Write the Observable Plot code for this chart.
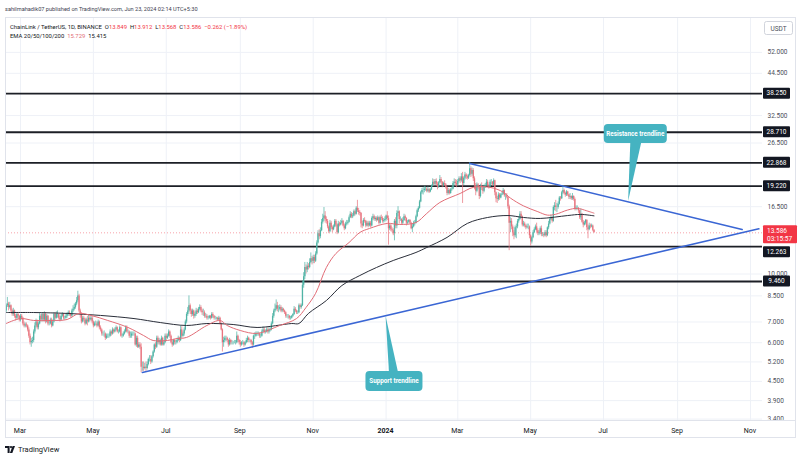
<!DOCTYPE html>
<html><head><meta charset="utf-8">
<script src="https://cdn.jsdelivr.net/npm/d3@7"></script>
<script src="https://cdn.jsdelivr.net/npm/@observablehq/plot@0.6"></script>
<style>
body{margin:0;background:#fff;}
#wrap{position:relative;width:800px;height:460px;overflow:hidden;background:#fff;font-family:Roboto,"Liberation Sans",sans-serif;}
#foot{position:absolute;left:5px;top:443px;height:12px;display:flex;align-items:center;gap:3px;font-size:7.5px;color:#131722;}
</style></head><body>
<div id="wrap"><div id="chart"></div>
<div id="foot"><svg width="10" height="7" viewBox="0 0 10 7"><path d="M0 0h4.6v7H2.6V2H0z" fill="#131722"/><circle cx="6" cy="1.1" r="1.1" fill="#131722"/><path d="M7.6 0h2.4L7.3 7H4.9z" fill="#131722"/></svg><span>TradingView</span></div>
</div>
<script>
// ---------------- DATA ----------------
const monthStarts = ["2023-02-17","2023-03-01","2023-04-01","2023-05-01","2023-06-01","2023-07-01","2023-08-01","2023-09-01","2023-10-01","2023-11-01","2023-12-01","2024-01-01","2024-02-01","2024-03-01","2024-04-01","2024-05-01","2024-06-01"];
const firstOpen = 7.6;
const closeByMonth = [
 [7.9,8.0,7.8,7.9,7.6,7.4,7.6,7.3,7.2,7.4,7.3,7.1],
 [7.3,7.2,6.9,6.8,6.85,6.8,6.6,6.3,6.0,6.05, 6.1,6.5,6.8,7.0,6.7,6.9,7.3,7.1,7.4,7.1, 7.4,7.0,7.3,6.9,6.9,7.1,6.8,7.0,7.4,7.2,7.4],
 [7.4,7.2,7.1,7.3,7.4,7.2,7.2,7.3,7.4,7.5, 7.4,7.3,7.6,7.7,7.8,8.0,8.2,8.5,7.6,7.4, 7.0,7.2,7.1,6.9,7.1,7.0,7.2,7.1,7.2,7.0],
 [6.8,6.9,6.9,6.8,7.0,6.7,6.6,6.4,6.4,6.4, 6.2,6.3,6.3,6.3,6.5,6.4,6.6,6.5,6.6,6.7, 6.5,6.5,6.7,6.3,6.3,6.4,6.5,6.7,6.5,6.5,6.3],
 [6.3,6.4,6.4,6.4,5.9,6.2,5.8,5.9,5.8,5.0, 5.0,4.95,5.0,4.95,5.1,5.3,5.3,5.2,5.4,5.6, 5.9,5.8,6.2,6.0,6.1,5.9,6.2,5.9,6.0,6.3],
 [6.2,6.3,6.5,6.3,6.0,5.9,6.1,6.0,6.0,6.1, 6.2,6.1,6.6,6.3,6.4,6.6,7.0,7.4,7.6,7.9, 7.6,7.4,7.6,7.3,7.4,7.6,7.5,7.7,7.8,7.6,7.5],
 [7.5,7.3,7.3,7.2,7.2,7.3,7.2,7.4,7.3,7.2, 7.2,7.2,7.1,7.2,6.9,6.6,6.0,6.1,6.2,6.2, 6.1,5.9,6.1,6.0,6.0,6.0,6.0,6.0,6.3,6.1,6.0],
 [5.9,6.0,6.0,5.9,6.0,6.1,6.2,6.1,6.1,6.0, 5.9,6.3,6.3,6.4,6.4,6.4,6.3,6.3,6.5,6.6, 6.5,6.5,6.6,6.5,6.6,6.6,6.9,7.3,7.6,7.7],
 [7.9,7.7,7.7,7.8,7.6,7.7,7.6,7.5,7.3,7.3, 7.3,7.2,7.2,7.3,7.4,7.7,7.6,7.5,7.5,7.9, 7.8,7.9,9.2,9.8,10.5,10.3,10.6,10.5,10.9,11.2, 11.0],
 [11.3,11.0,11.6,12.6,13.5,13.2,13.8,14.7,15.1,15.4, 15.0,14.8,14.2,13.7,14.6,14.1,13.9,14.2,14.8,14.4, 13.6,14.5,14.4,14.6,14.8,14.3,14.0,14.5,14.6,14.7],
 [15.2,15.6,15.3,15.4,15.9,15.6,16.3,16.0,15.8,15.7, 14.5,14.3,14.9,14.8,14.3,14.6,14.3,14.6,14.3,15.1, 15.3,15.0,15.1,14.9,15.2,14.6,15.2,15.1,14.8,14.9, 15.0],
 [15.4,15.1,14.0,14.3,13.9,13.8,13.5,14.8,14.3,15.7, 15.9,15.0,15.0,14.6,14.9,15.3,15.1,14.6,14.7,14.9, 14.6,14.0,14.2,14.6,14.6,15.3,16.0,16.3,17.1,18.3, 18.6],
 [18.6,18.8,18.8,18.5,18.7,18.4,18.7,19.2,19.8,19.5, 19.9,19.5,19.1,19.7,20.2,19.8,19.3,19.6,19.4,19.0, 18.2,18.6,18.2,18.7,18.8,19.6,19.8,19.6,19.4],
 [19.9,20.3,20.0,20.6,19.6,20.4,20.9,20.6,20.4,20.8, 21.9,21.0,21.6,20.3,19.3,18.5,19.4,19.1,17.8,19.2, 19.0,18.5,19.2,19.3,19.8,19.3,19.1,19.8,19.8,19.4, 20.0],
 [18.3,17.5,17.4,18.0,17.6,18.0,18.1,18.6,17.9,17.9, 17.7,16.5,14.6,14.8,14.2,13.6,13.3,14.1,14.2,14.8, 15.0,15.6,15.3,14.4,14.5,14.3,14.1,14.2,14.2,13.3],
 [12.7,13.1,13.6,13.9,14.2,13.8,13.5,13.6,14.0,13.4, 13.4,13.3,13.6,13.3,14.1,14.5,15.0,15.2,14.8,16.4, 16.6,16.4,16.4,16.8,17.6,17.5,18.3,18.6,18.2,18.0, 18.4],
 [18.0,17.7,17.8,17.5,17.8,17.4,16.2,16.3,16.3,16.0, 15.2,15.6,14.7,14.4,14.6,14.9,14.1,13.9,14.3,14.2, 14.3,13.849,13.586]
];
const highByMonth = [
 [8.0,8.4,8.1,8.1,7.95,7.7,7.75,7.65,7.4,7.5,7.5,7.35],
 [7.4,7.4,7.25,7.0,6.95,6.95,6.85,6.7,6.4,6.2, 6.25,6.6,6.95,7.15,7.1,7.0,7.45,7.4,7.5,7.45, 7.55,7.5,7.4,7.35,7.05,7.2,7.2,7.1,7.5,7.5,7.55],
 [7.6,7.45,7.3,7.4,7.5,7.45,7.3,7.4,7.5,7.6, 7.6,7.45,7.7,7.9,8.0,8.1,8.4,8.8,8.6,7.7, 7.5,7.3,7.3,7.2,7.2,7.3,7.35,7.3,7.3,7.3],
 [7.05,7.0,7.05,7.0,7.1,7.05,6.8,6.65,6.5,6.55, 6.45,6.4,6.4,6.4,6.6,6.55,6.7,6.65,6.7,6.8, 6.75,6.6,6.8,6.75,6.4,6.5,6.6,6.8,6.8,6.6,6.55],
 [6.5,6.5,6.5,6.5,6.45,6.3,6.3,6.0,6.0,5.95, 5.2,5.2,5.15,5.2,5.2,5.35,5.45,5.45,5.45,5.65, 5.95,6.0,6.3,6.3,6.2,6.15,6.3,6.25,6.1,6.4],
 [6.4,6.4,6.6,6.55,6.35,6.1,6.15,6.15,6.1,6.2, 6.3,6.25,6.8,6.75,6.5,6.7,7.1,7.5,7.8,8.5, 8.0,7.7,7.7,7.65,7.5,7.75,7.7,7.8,7.95,7.9,7.7],
 [7.7,7.6,7.45,7.4,7.3,7.35,7.35,7.5,7.5,7.35, 7.3,7.25,7.25,7.3,7.25,6.95,6.65,6.25,6.3,6.3, 6.25,6.15,6.2,6.15,6.1,6.05,6.1,6.1,6.5,6.35,6.15],
 [6.1,6.05,6.1,6.05,6.05,6.2,6.3,6.25,6.15,6.15, 6.05,6.35,6.45,6.5,6.5,6.5,6.45,6.4,6.6,6.75, 6.7,6.6,6.7,6.7,6.7,6.7,7.0,7.45,7.7,8.0],
 [8.25,8.1,7.9,7.95,7.9,7.8,7.75,7.65,7.55,7.4, 7.4,7.35,7.3,7.35,7.45,7.85,7.8,7.65,7.6,8.0, 8.0,8.0,9.5,10.1,10.9,10.7,10.9,10.8,11.2,11.7, 11.4],
 [11.5,11.5,11.8,12.8,13.8,13.9,14.1,15.0,15.6,16.4, 15.9,15.3,15.0,14.3,14.9,14.8,14.3,14.4,15.0,15.0, 14.5,14.8,14.7,14.9,15.1,14.9,14.5,14.7,14.9,14.9],
 [15.4,15.9,15.8,15.7,16.1,16.1,16.5,17.3,16.3,16.0, 15.8,14.8,15.1,15.2,14.9,14.8,14.8,14.8,14.8,15.3, 15.6,15.5,15.3,15.3,15.4,15.3,15.4,15.5,15.3,15.1, 15.3],
 [15.5,15.9,15.4,14.5,14.5,14.1,14.0,15.0,15.2,16.0, 16.5,16.0,15.3,15.1,15.2,15.6,15.5,15.2,14.9,15.0, 15.0,14.7,14.5,14.8,14.9,15.5,16.2,16.5,17.3,18.5, 18.9],
 [19.0,19.2,19.1,19.0,19.1,18.9,18.9,19.4,20.3,20.2, 20.2,20.3,19.8,19.9,20.8,20.5,19.9,19.8,20.0,19.6, 19.1,18.9,18.8,18.9,19.1,19.9,20.3,20.2,20.1],
 [20.2,20.6,20.6,21.1,21.3,20.6,21.3,21.1,20.9,21.0, 22.9,22.2,22.0,21.9,20.6,19.6,19.7,19.6,19.2,19.5, 19.7,19.1,19.4,19.6,20.2,20.1,19.5,20.1,20.2,19.9, 20.3],
 [20.1,18.4,17.8,18.3,18.2,18.2,18.4,18.9,18.7,18.1, 18.2,17.8,16.7,15.2,15.1,14.4,13.8,14.3,14.5,15.0, 15.3,15.9,15.9,15.4,14.8,14.7,14.4,14.5,14.5,14.3],
 [13.4,13.2,13.8,14.1,14.4,14.6,14.0,13.8,14.2,14.3, 13.6,13.6,13.8,13.8,14.2,14.8,15.2,15.5,15.3,16.6, 17.0,17.3,16.9,17.1,17.8,17.8,18.5,19.3,18.8,18.4, 18.6],
 [18.5,18.1,18.2,17.9,18.2,17.9,17.6,16.6,16.6,16.4, 16.1,16.2,15.7,14.9,14.8,15.0,15.0,14.4,14.6,14.5, 14.5,14.4,13.912]
];
const lowByMonth = [
 [7.5,7.8,7.6,7.7,7.45,7.3,7.3,7.2,7.05,7.1,7.15,7.0],
 [7.0,7.1,6.8,6.7,6.7,6.7,6.5,6.2,5.9,5.8, 5.95,6.0,6.4,6.7,6.6,6.6,6.85,7.0,7.0,7.0, 7.0,6.9,6.95,6.8,6.8,6.85,6.7,6.75,6.95,7.1,7.15],
 [7.2,7.1,7.0,7.05,7.25,7.1,7.1,7.15,7.2,7.3, 7.3,7.2,7.25,7.5,7.6,7.7,7.9,8.1,7.5,7.2, 6.9,6.95,7.0,6.8,6.85,6.8,6.95,7.0,7.05,6.9],
 [6.7,6.75,6.8,6.7,6.75,6.6,6.5,6.3,6.3,6.25, 6.1,6.15,6.2,6.2,6.25,6.3,6.35,6.4,6.45,6.55, 6.45,6.4,6.45,6.25,6.2,6.25,6.35,6.45,6.45,6.4,6.2],
 [6.2,6.2,6.3,6.3,5.85,5.8,5.75,5.75,5.7,4.8, 4.85,4.85,4.9,4.85,4.9,5.05,5.2,5.1,5.15,5.35, 5.55,5.7,5.75,5.9,5.9,5.85,5.85,5.85,5.85,5.95],
 [6.1,6.15,6.25,6.2,5.95,5.8,5.85,5.9,5.9,5.95, 6.05,6.0,6.05,6.2,6.25,6.3,6.55,6.9,7.3,7.5, 7.4,7.25,7.3,7.15,7.2,7.3,7.4,7.45,7.6,7.5,7.35],
 [7.3,7.2,7.2,7.1,7.1,7.15,7.1,7.15,7.2,7.1, 7.1,7.1,7.05,7.05,6.85,6.55,5.6,5.8,6.0,6.05, 6.0,5.8,5.85,5.9,5.9,5.9,5.95,5.9,5.95,6.0,5.9],
 [5.8,5.85,5.9,5.8,5.85,5.95,6.0,6.0,6.0,5.9, 5.75,5.85,6.15,6.25,6.3,6.3,6.2,6.2,6.25,6.45, 6.4,6.4,6.45,6.4,6.4,6.5,6.55,6.85,7.2,7.5],
 [7.6,7.55,7.5,7.6,7.5,7.5,7.5,7.4,7.2,7.2, 7.15,7.1,7.1,7.15,7.25,7.35,7.5,7.4,7.4,7.45, 7.7,7.7,7.85,9.0,9.6,10.0,10.1,10.3,10.4,10.8, 10.7],
 [10.8,10.8,10.9,11.5,12.5,12.9,13.0,13.7,14.5,14.8, 14.6,14.5,14.0,13.5,13.6,13.9,13.6,13.8,14.1,14.2, 13.4,13.5,14.2,14.3,14.5,14.2,13.8,13.9,14.3,14.4],
 [14.6,15.1,15.1,15.1,15.3,15.4,15.5,15.8,15.5,15.4, 14.1,14.0,14.2,14.6,14.1,14.2,14.1,14.2,14.1,14.2, 14.9,14.8,14.8,14.7,14.8,14.4,14.5,14.9,14.6,14.6, 14.7],
 [14.8,14.9,12.4,13.8,13.7,13.6,13.3,12.8,14.0,14.0, 15.3,14.5,14.8,14.4,14.4,14.8,14.8,14.3,14.4,14.6, 14.5,13.9,13.6,14.1,14.3,14.5,15.2,15.8,16.2,17.0, 18.1],
 [18.0,18.3,18.5,18.3,18.3,18.2,18.3,18.6,19.1,19.2, 19.3,19.2,18.7,18.9,19.6,19.5,19.0,19.1,19.2,18.8, 17.9,18.0,18.0,18.1,18.5,18.7,19.3,19.2,19.0],
 [19.2,19.7,19.6,19.8,16.9,19.3,20.1,20.2,20.1,20.2, 20.6,20.5,20.7,19.9,18.7,17.9,18.3,18.7,17.4,17.6, 18.6,18.1,18.3,18.9,19.2,19.1,18.8,18.9,19.4,19.2, 19.2],
 [17.9,17.0,16.9,17.2,17.3,17.5,17.9,18.0,17.7,17.3, 17.5,16.2,11.9,13.6,13.9,13.2,12.9,13.1,13.0,14.0, 14.6,14.9,15.1,14.2,14.2,14.1,13.9,14.0,13.9,13.0],
 [12.3,12.5,13.0,13.5,13.8,13.6,13.3,13.3,13.4,13.2, 13.2,13.1,13.2,13.1,13.2,13.9,14.4,14.9,14.6,14.7, 16.0,15.9,15.8,16.2,16.7,17.2,17.4,18.1,18.0,17.7, 17.8],
 [17.8,17.4,17.4,17.3,17.3,17.2,16.0,16.0,16.1,15.7, 15.0,14.9,14.6,14.1,14.3,14.4,13.8,13.0,13.8,14.0, 14.1,13.7,13.568]
];
// EMA lines: [date, value]
const emaFast = [["2023-02-17",6.92],["2023-03-01",7.18],["2023-03-12",7.08],["2023-03-26",7.08],["2023-04-09",7.13],["2023-04-19",7.46],["2023-04-29",7.35],["2023-05-13",7.08],["2023-05-30",6.72],["2023-06-12",6.33],["2023-06-20",6.10],["2023-07-02",6.10],["2023-07-10",6.19],["2023-07-18",6.24],["2023-08-04",6.82],["2023-08-15",7.08],["2023-08-21",6.82],["2023-09-01",6.57],["2023-09-15",6.43],["2023-10-04",6.82],["2023-10-18",7.18],["2023-10-26",7.80],["2023-11-03",8.66],["2023-11-12",10.5],["2023-11-20",11.65],["2023-12-01",12.64],["2023-12-10",13.62],["2023-12-18",14.03],["2024-01-02",14.57],["2024-01-12",14.46],["2024-01-26",14.67],["2024-02-04",15.69],["2024-02-15",17.03],["2024-03-03",18.21],["2024-03-14",19.05],["2024-03-28",19.05],["2024-04-08",18.4],["2024-04-14",17.6],["2024-04-25",16.6],["2024-05-07",15.9],["2024-05-15",15.5],["2024-05-22",15.6],["2024-06-01",16.1],["2024-06-09",16.3],["2024-06-17",16.0],["2024-06-23",15.729]];
const emaSlow = [["2023-02-17",7.51],["2023-03-12",7.51],["2023-04-09",7.46],["2023-05-07",7.35],["2023-06-04",7.18],["2023-06-26",6.97],["2023-07-18",6.82],["2023-08-04",6.92],["2023-08-26",6.87],["2023-09-15",6.72],["2023-10-14",6.92],["2023-10-20",6.92],["2023-10-28",7.46],["2023-11-12",8.21],["2023-11-25",9.18],["2023-12-10",9.89],["2023-12-24",10.5],["2024-01-07",11.06],["2024-01-26",11.74],["2024-02-04",12.18],["2024-02-21",13.13],["2024-03-09",14.57],["2024-03-26",15.23],["2024-04-12",15.45],["2024-04-25",15.23],["2024-05-09",15.12],["2024-06-01",15.45],["2024-06-12",15.58],["2024-06-23",15.415]];
const resistanceLine = [["2024-03-11",22.76],["2024-10-25",13.93]];
const supportLine = [["2023-06-11",4.81],["2024-11-08",14.0]];
const levels = [38.25, 28.71, 22.868, 19.22, 12.263, 9.46];
const lastClose = 13.586;
const priceTicks = [52, 44.5, 32.5, 26.5, 16.5, 10, 8.5, 7, 6, 5.2, 4.5, 3.9, 3.4];
const monthTicks = ["2023-03-01","2023-05-01","2023-07-01","2023-09-01","2023-11-01","2024-01-01","2024-03-01","2024-05-01","2024-07-01","2024-09-01","2024-11-01"];
const monthLabels = ["Mar","May","Jul","Sep","Nov","2024","Mar","May","Jul","Sep","Nov"];
const callouts = [
 {text:"Resistance trendline", boxDate:"2024-07-28", boxValue:28.35, tipDate:"2024-07-22", tipValue:17.15, side:"bottom"},
 {text:"Support trendline", boxDate:"2024-01-08", boxValue:4.50, tipDate:"2024-01-01", tipValue:7.29, side:"top"}
];
const headerPublished = "sahilmahadik07 published on TradingView.com, Jun 23, 2024 02:14 UTC+5:30";
const legendSymbol = "ChainLink / TetherUS, 1D, BINANCE";
const legendOHLC = [["O","13.849"],["H","13.912"],["L","13.568"],["C","13.586"]];
const legendChange = "\u22120.262 (\u22121.89%)";
const emaLegend = ["EMA 20/50/100/200", "15.729", "15.415"];

// ---------------- BUILD ----------------
const parse = d3.utcParse("%Y-%m-%d");
const candles = [];
monthStarts.forEach((s, m) => {
  const start = parse(s);
  closeByMonth[m].forEach((c, i) => {
    candles.push({date: d3.utcDay.offset(start, i), close: c, high: highByMonth[m][i], low: lowByMonth[m][i]});
  });
});
candles.forEach((d, i) => { d.open = i ? candles[i - 1].close : firstOpen; });
const up = "#4fb3a5", down = "#e8737e";
const candleColor = d => d.close >= d.open ? up : down;
const toPts = a => a.map(([d, v]) => ({date: parse(d), value: v}));
const ticksX = monthTicks.map((d, i) => ({date: parse(d), label: monthLabels[i]}));

const plot = Plot.plot({
  width: 800, height: 440,
  marginTop: 17, marginBottom: 20, marginLeft: 5, marginRight: 38,
  style: {fontFamily: "Roboto, 'Liberation Sans', sans-serif", fontSize: "7px", color: "#131722", background: "#ffffff", overflow: "visible"},
  x: {type: "utc", domain: [new Date("2023-02-16T10:40:00Z"), new Date("2024-11-11T01:00:00Z")], axis: null},
  y: {type: "log", domain: [3.364, 67.4], axis: null},
  marks: [
    Plot.ruleX(ticksX, {x: "date", stroke: "#eef1f7"}),
    Plot.ruleY(priceTicks, {stroke: "#eef1f7"}),
    Plot.ruleY([lastClose], {stroke: "#f23645", strokeOpacity: 0.45, strokeDasharray: "1,2"}),
    Plot.ruleY(levels, {stroke: "#1c1f26", strokeWidth: 1.8}),
    Plot.ruleX(candles, {x: "date", y1: "low", y2: "high", stroke: candleColor, strokeWidth: 0.9, strokeOpacity: 0.8}),
    Plot.ruleX(candles, {x: "date", y1: "open", y2: "close", stroke: candleColor, strokeWidth: 1.3}),
    Plot.line(toPts(emaSlow), {x: "date", y: "value", stroke: "#2a2e39", strokeWidth: 1, curve: "catmull-rom"}),
    Plot.line(toPts(emaFast), {x: "date", y: "value", stroke: "#e26d77", strokeWidth: 1, curve: "catmull-rom"}),
    Plot.line(toPts(resistanceLine), {x: "date", y: "value", stroke: "#3a66d4", strokeWidth: 1.6}),
    Plot.line(toPts(supportLine), {x: "date", y: "value", stroke: "#3a66d4", strokeWidth: 1.6}),
    Plot.text(priceTicks, {y: d => d, text: d => d.toFixed(3), frameAnchor: "right", textAnchor: "start", dx: 5, fill: "#4b4f5a", fontSize: 6.5})
  ]
});
document.getElementById("chart").appendChild(plot);

const svg = d3.select(plot);
const sx = plot.scale("x"), sy = plot.scale("y");
const X = d => sx.apply(d), Y = v => sy.apply(v);

const g = svg.append("g").attr("text-anchor", "start").attr("font-family", "Roboto, 'Liberation Sans', sans-serif");
// time-axis strip (clips the bottom price label like the reference)
g.append("rect").attr("x", 0).attr("y", 420.5).attr("width", 800).attr("height", 17).attr("fill", "#fff");
g.append("rect").attr("x", 5.5).attr("y", 17.5).attr("width", 790).attr("height", 420).attr("fill", "none").attr("stroke", "#e0e3eb");
g.append("line").attr("x1", 5).attr("x2", 796).attr("y1", 420.5).attr("y2", 420.5).attr("stroke", "#e0e3eb");
// time axis labels, positioned by the x scale
ticksX.forEach(t => {
  g.append("text").attr("x", X(t.date)).attr("y", 432.5).attr("text-anchor", "middle").attr("font-size", 7)
    .attr("fill", "#131722").attr("font-weight", t.label === "2024" ? "bold" : "normal").text(t.label);
});

// current price label box extent
const yLast = Y(lastClose);
const lastTop = yLast - 7, lastBottom = yLast + 11;
// level labels on price scale (pushed clear of the current price label, as the price scale does)
levels.forEach(v => {
  let y = Y(v);
  if (y - 5.5 < lastBottom + 3 && y + 5.5 > lastTop) y = lastBottom + 3 + 5.5;
  g.append("rect").attr("x", 763).attr("y", y - 5.5).attr("width", 27).attr("height", 11).attr("fill", "#131722").attr("rx", 1);
  g.append("text").attr("x", 776.5).attr("y", y + 2.3).attr("text-anchor", "middle").attr("fill", "#fff").attr("font-size", 6.5).text(v.toFixed(3));
});
g.append("rect").attr("x", 763).attr("y", lastTop).attr("width", 34).attr("height", 18).attr("fill", "#f23645").attr("rx", 1);
g.append("text").attr("x", 767).attr("y", yLast + 0.5).attr("fill", "#fff").attr("font-size", 6.5).text(lastClose.toFixed(3));
g.append("text").attr("x", 767).attr("y", yLast + 8.5).attr("fill", "#fff").attr("font-size", 6.5).text("03:15:57");

// USDT box
g.append("rect").attr("x", 764.5).attr("y", 21.5).attr("width", 28).attr("height", 13).attr("rx", 2).attr("fill", "#fff").attr("stroke", "#d1d4dc");
g.append("text").attr("x", 778.5).attr("y", 30.5).attr("text-anchor", "middle").attr("fill", "#4b4f5a").attr("font-size", 6.5).text("USDT");

// callouts
const teal = "#45b3c1";
callouts.forEach(c => {
  const tx = X(parse(c.tipDate)), ty = Y(c.tipValue);
  const cx = X(parse(c.boxDate)), cy = Y(c.boxValue);
  const w = c.side === "bottom" ? 63 : 57, h = c.side === "bottom" ? 19 : 20;
  const by = c.side === "bottom" ? cy + h / 2 - 1 : cy - h / 2 + 1;
  const b0 = -5, b1 = c.side === "bottom" ? 6 : 4;
  g.append("path").attr("d", `M${cx + b0},${by}L${cx + b1},${by}L${tx},${ty}Z`).attr("fill", teal);
  g.append("rect").attr("x", cx - w / 2).attr("y", cy - h / 2).attr("width", w).attr("height", h).attr("rx", 4).attr("fill", teal);
  g.append("text").attr("x", cx).attr("y", cy + 2.3).attr("text-anchor", "middle").attr("fill", "#fff").attr("font-size", 6.3).attr("font-weight", "bold").text(c.text);
});

// header texts: one text element per line, natural flow
g.append("text").attr("x", 5).attr("y", 11).attr("font-size", 5.6).attr("fill", "#3d4150").text(headerPublished);
const l2 = g.append("text").attr("x", 10).attr("y", 28.5).attr("font-size", 5.9).attr("fill", "#131722");
l2.append("tspan").text(legendSymbol + "  ");
legendOHLC.forEach(([k, v]) => { l2.append("tspan").text(k); l2.append("tspan").attr("fill", "#f23645").text(v + "  "); });
l2.append("tspan").attr("fill", "#f23645").text(legendChange);
const l3 = g.append("text").attr("x", 10).attr("y", 37.5).attr("font-size", 5.9).attr("fill", "#131722");
l3.append("tspan").text(emaLegend[0] + "  ");
l3.append("tspan").attr("fill", "#e26d77").text(emaLegend[1] + "  ");
l3.append("tspan").text(emaLegend[2]);
</script>
</body></html>
